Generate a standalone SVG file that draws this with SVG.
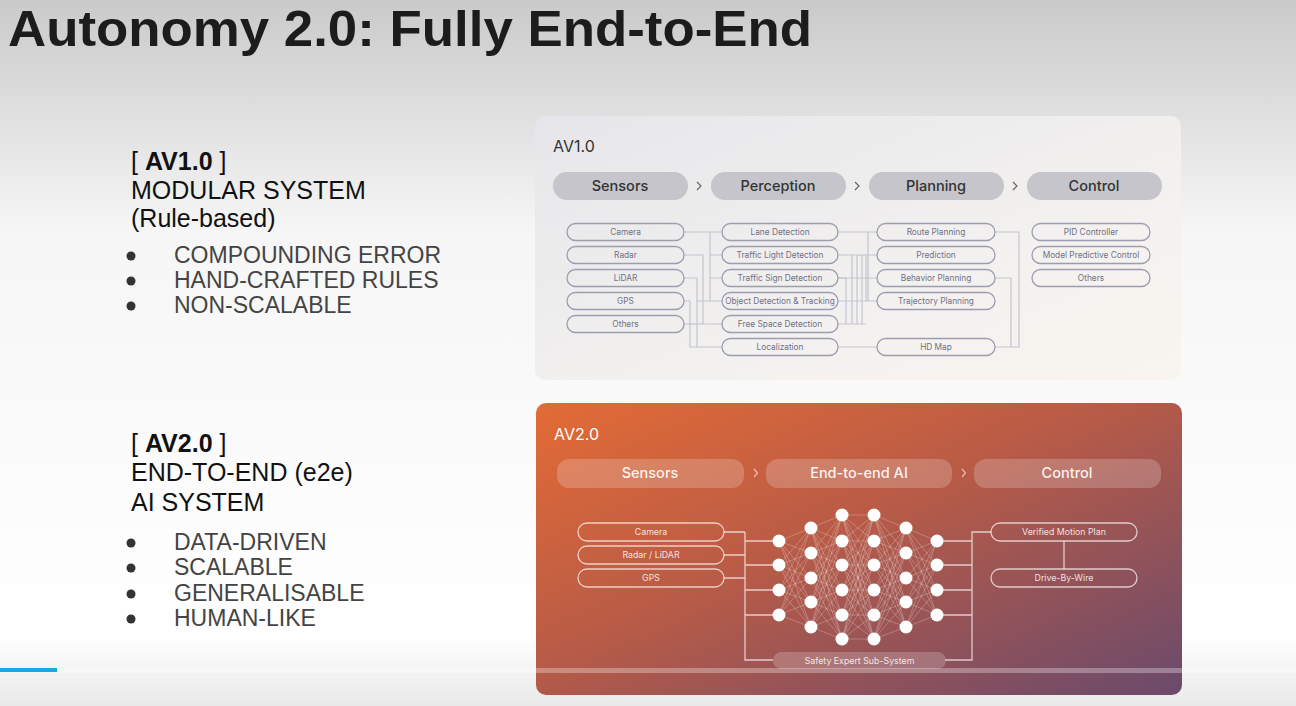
<svg xmlns="http://www.w3.org/2000/svg" width="1296" height="706" viewBox="0 0 1296 706">
<defs>
<linearGradient id="bg" x1="0" y1="0" x2="0" y2="1">
<stop offset="0" stop-color="#c9cac9"/>
<stop offset="0.33" stop-color="#f6f6f6"/>
<stop offset="0.9" stop-color="#ffffff"/>
<stop offset="1" stop-color="#e9e9e9"/>
</linearGradient>
<linearGradient id="p1" x1="0" y1="0" x2="1" y2="1">
<stop offset="0" stop-color="#e6e6ea"/>
<stop offset="0.6" stop-color="#f3f1ef"/>
<stop offset="1" stop-color="#f8f4ef"/>
</linearGradient>
<linearGradient id="p2" x1="0" y1="0" x2="1" y2="1">
<stop offset="0" stop-color="#e36b35"/>
<stop offset="0.45" stop-color="#b85b47"/>
<stop offset="1" stop-color="#6a4a6c"/>
</linearGradient>
<style>
.ttl{font-family:"Liberation Sans",Arial,sans-serif;font-weight:bold;font-size:50px;fill:#1c1c1c}
.lh{font-family:"Liberation Sans",Arial,sans-serif;font-size:25px;fill:#111}
.lb{font-family:"Liberation Sans",Arial,sans-serif;font-size:23px;fill:#444}
.dot{fill:#333}
.ph{font-family:Inter,"Noto Sans",sans-serif;font-size:16px;fill:#333}
.tp{fill:#c5c5cb}
.tpt{font-family:Inter,"Noto Sans",sans-serif;font-size:14.5px;font-weight:500;fill:#333;text-anchor:middle}
.chev{fill:none;stroke:#666;stroke-width:1.2}
.sp{fill:none;stroke:#9d9db2;stroke-width:1.3}
.spt{font-family:Inter,"Noto Sans",sans-serif;font-size:8.3px;fill:#707088;text-anchor:middle}
.c1{fill:none;stroke:#c4c4d0;stroke-width:1.2}
.ph2{font-family:Inter,"Noto Sans",sans-serif;font-size:16px;fill:#fff}
.tp2{fill:#ffffff;fill-opacity:0.2}
.tpt2{font-family:Inter,"Noto Sans",sans-serif;font-size:14.5px;font-weight:500;fill:#fff;fill-opacity:0.92;text-anchor:middle}
.chev2{fill:none;stroke:#fff;stroke-opacity:0.6;stroke-width:1.2}
.sp2{fill:none;stroke:#fff;stroke-opacity:0.7;stroke-width:1.3}
.spt2{font-family:Inter,"Noto Sans",sans-serif;font-size:8.8px;fill:#fff;fill-opacity:0.85;text-anchor:middle}
.c2{fill:none;stroke:#fff;stroke-opacity:0.7;stroke-width:1.3}
.nn{fill:none;stroke:#fff;stroke-opacity:0.3;stroke-width:0.8}
.nd{fill:#fff}
</style>
</defs>
<rect x="0" y="0" width="1296" height="706" fill="url(#bg)"/>
<text class="ttl" x="8" y="46" textLength="804" lengthAdjust="spacingAndGlyphs">Autonomy 2.0: Fully End-to-End</text>

<g id="left-av1">
<text class="lh" x="131" y="170">[ <tspan font-weight="bold">AV1.0</tspan> ]</text>
<text class="lh" x="131" y="199">MODULAR SYSTEM</text>
<text class="lh" x="131" y="227">(Rule-based)</text>
<circle class="dot" cx="131" cy="256" r="4.5"/><text class="lb" x="174" y="263">COMPOUNDING ERROR</text>
<circle class="dot" cx="131" cy="281" r="4.5"/><text class="lb" x="174" y="288">HAND-CRAFTED RULES</text>
<circle class="dot" cx="131" cy="306" r="4.5"/><text class="lb" x="174" y="313">NON-SCALABLE</text>
</g>
<g id="left-av2">
<text class="lh" x="131" y="452">[ <tspan font-weight="bold">AV2.0</tspan> ]</text>
<text class="lh" x="131" y="481">END-TO-END (e2e)</text>
<text class="lh" x="131" y="511">AI SYSTEM</text>
<circle class="dot" cx="131" cy="543" r="4.5"/><text class="lb" x="174" y="550">DATA-DRIVEN</text>
<circle class="dot" cx="131" cy="568" r="4.5"/><text class="lb" x="174" y="575">SCALABLE</text>
<circle class="dot" cx="131" cy="594" r="4.5"/><text class="lb" x="174" y="601">GENERALISABLE</text>
<circle class="dot" cx="131" cy="619" r="4.5"/><text class="lb" x="174" y="626">HUMAN-LIKE</text>
</g>

<!-- AV1.0 panel -->
<g id="panel-av1">
<rect x="535" y="116" width="646" height="264" rx="10" fill="url(#p1)"/>
<text class="ph" x="553" y="152">AV1.0</text>
</g>
<g id="av1-header">
<rect class="tp" x="553" y="172" width="135" height="28" rx="14"/><text class="tpt" x="620" y="191">Sensors</text>
<rect class="tp" x="711" y="172" width="135" height="28" rx="14"/><text class="tpt" x="778" y="191">Perception</text>
<rect class="tp" x="869" y="172" width="135" height="28" rx="14"/><text class="tpt" x="936" y="191">Planning</text>
<rect class="tp" x="1027" y="172" width="135" height="28" rx="14"/><text class="tpt" x="1094" y="191">Control</text>
<path class="chev" d="M697 182L701 186L697 190M855 182L859 186L855 190M1013 182L1017 186L1013 190"/>
</g>
<g id="av1-connectors">
<path class="c1" d="M684 232H710V301M710 232H722M710 255H722M710 278H722M710 301H722"/>
<path class="c1" d="M684 255H703V324M703 301H710M703 324H722"/>
<path class="c1" d="M684 278H697V347H722M697 301H703"/>
<path class="c1" d="M684 301H690V347H697"/>
<path class="c1" d="M684 324H703"/>
<path class="c1" d="M838 232H877M868 232V301"/>
<path class="c1" d="M838 255H877M838 278H877M838 301H877M852 255V324M857 255V324M862 255V324M866 255V301"/>
<path class="c1" d="M838 278H846V324M838 324H866"/>
<path class="c1" d="M838 347H877"/>
<path class="c1" d="M995 232H1019V347H995M995 278H1011V347"/>
</g>
<g id="av1-sensors">
<rect class="sp" x="567" y="223.5" width="117" height="17" rx="8.5"/><text class="spt" x="625.5" y="235">Camera</text>
<rect class="sp" x="567" y="246.5" width="117" height="17" rx="8.5"/><text class="spt" x="625.5" y="258">Radar</text>
<rect class="sp" x="567" y="269.5" width="117" height="17" rx="8.5"/><text class="spt" x="625.5" y="281">LiDAR</text>
<rect class="sp" x="567" y="292.5" width="117" height="17" rx="8.5"/><text class="spt" x="625.5" y="304">GPS</text>
<rect class="sp" x="567" y="315.5" width="117" height="17" rx="8.5"/><text class="spt" x="625.5" y="327">Others</text>
</g>
<g id="av1-perception">
<rect class="sp" x="722" y="223.5" width="116" height="17" rx="8.5"/><text class="spt" x="780" y="235">Lane Detection</text>
<rect class="sp" x="722" y="246.5" width="116" height="17" rx="8.5"/><text class="spt" x="780" y="258">Traffic Light Detection</text>
<rect class="sp" x="722" y="269.5" width="116" height="17" rx="8.5"/><text class="spt" x="780" y="281">Traffic Sign Detection</text>
<rect class="sp" x="722" y="292.5" width="116" height="17" rx="8.5"/><text class="spt" x="780" y="304">Object Detection &amp; Tracking</text>
<rect class="sp" x="722" y="315.5" width="116" height="17" rx="8.5"/><text class="spt" x="780" y="327">Free Space Detection</text>
<rect class="sp" x="722" y="338.5" width="116" height="17" rx="8.5"/><text class="spt" x="780" y="350">Localization</text>
</g>
<g id="av1-planning">
<rect class="sp" x="877" y="223.5" width="118" height="17" rx="8.5"/><text class="spt" x="936" y="235">Route Planning</text>
<rect class="sp" x="877" y="246.5" width="118" height="17" rx="8.5"/><text class="spt" x="936" y="258">Prediction</text>
<rect class="sp" x="877" y="269.5" width="118" height="17" rx="8.5"/><text class="spt" x="936" y="281">Behavior Planning</text>
<rect class="sp" x="877" y="292.5" width="118" height="17" rx="8.5"/><text class="spt" x="936" y="304">Trajectory Planning</text>
<rect class="sp" x="877" y="338.5" width="118" height="17" rx="8.5"/><text class="spt" x="936" y="350">HD Map</text>
</g>
<g id="av1-control">
<rect class="sp" x="1032" y="223.5" width="118" height="17" rx="8.5"/><text class="spt" x="1091" y="235">PID Controller</text>
<rect class="sp" x="1032" y="246.5" width="118" height="17" rx="8.5"/><text class="spt" x="1091" y="258">Model Predictive Control</text>
<rect class="sp" x="1032" y="269.5" width="118" height="17" rx="8.5"/><text class="spt" x="1091" y="281">Others</text>
</g>

<!-- AV2.0 panel -->
<g id="panel-av2">
<rect x="536" y="403" width="646" height="292" rx="10" fill="url(#p2)"/>
<text class="ph2" x="554" y="440">AV2.0</text>
</g>
<g id="av2-header">
<rect class="tp2" x="557" y="459" width="187" height="29" rx="12"/><text class="tpt2" x="650" y="478">Sensors</text>
<rect class="tp2" x="766" y="459" width="186" height="29" rx="12"/><text class="tpt2" x="859" y="478">End-to-end AI</text>
<rect class="tp2" x="974" y="459" width="187" height="29" rx="12"/><text class="tpt2" x="1067" y="478">Control</text>
<path class="chev2" d="M754 469L757.5 473L754 477M962 469L965.5 473L962 477"/>
</g>
<g id="av2-connectors">
<path class="c2" d="M724 532H745M724 555H745M724 578H745M745 532V660H773M745 541H779M745 565H779M745 590H779M745 615H779"/>
<path class="c2" d="M937 541H972M937 565H972M937 590H972M937 615H972M991 532H972V660H945"/>
<path class="c2" d="M1064 541V569"/>
</g>
<g id="nn-edges">
<path class="nn" d="M779 541L811 528M779 541L811 553M779 541L811 578M779 541L811 602M779 541L811 627M779 565L811 528M779 565L811 553M779 565L811 578M779 565L811 602M779 565L811 627M779 590L811 528M779 590L811 553M779 590L811 578M779 590L811 602M779 590L811 627M779 615L811 528M779 615L811 553M779 615L811 578M779 615L811 602M779 615L811 627"/>
<path class="nn" d="M811 528L842 515M811 528L842 541M811 528L842 565M811 528L842 590M811 528L842 615M811 528L842 639M811 553L842 515M811 553L842 541M811 553L842 565M811 553L842 590M811 553L842 615M811 553L842 639M811 578L842 515M811 578L842 541M811 578L842 565M811 578L842 590M811 578L842 615M811 578L842 639M811 602L842 515M811 602L842 541M811 602L842 565M811 602L842 590M811 602L842 615M811 602L842 639M811 627L842 515M811 627L842 541M811 627L842 565M811 627L842 590M811 627L842 615M811 627L842 639"/>
<path class="nn" d="M842 515L874 515M842 515L874 541M842 515L874 565M842 515L874 590M842 515L874 615M842 515L874 639M842 541L874 515M842 541L874 541M842 541L874 565M842 541L874 590M842 541L874 615M842 541L874 639M842 565L874 515M842 565L874 541M842 565L874 565M842 565L874 590M842 565L874 615M842 565L874 639M842 590L874 515M842 590L874 541M842 590L874 565M842 590L874 590M842 590L874 615M842 590L874 639M842 615L874 515M842 615L874 541M842 615L874 565M842 615L874 590M842 615L874 615M842 615L874 639M842 639L874 515M842 639L874 541M842 639L874 565M842 639L874 590M842 639L874 615M842 639L874 639"/>
<path class="nn" d="M874 515L906 528M874 515L906 553M874 515L906 578M874 515L906 602M874 515L906 627M874 541L906 528M874 541L906 553M874 541L906 578M874 541L906 602M874 541L906 627M874 565L906 528M874 565L906 553M874 565L906 578M874 565L906 602M874 565L906 627M874 590L906 528M874 590L906 553M874 590L906 578M874 590L906 602M874 590L906 627M874 615L906 528M874 615L906 553M874 615L906 578M874 615L906 602M874 615L906 627M874 639L906 528M874 639L906 553M874 639L906 578M874 639L906 602M874 639L906 627"/>
<path class="nn" d="M906 528L937 541M906 528L937 565M906 528L937 590M906 528L937 615M906 553L937 541M906 553L937 565M906 553L937 590M906 553L937 615M906 578L937 541M906 578L937 565M906 578L937 590M906 578L937 615M906 602L937 541M906 602L937 565M906 602L937 590M906 602L937 615M906 627L937 541M906 627L937 565M906 627L937 590M906 627L937 615"/>
</g>
<g id="nn-nodes">
<circle class="nd" cx="779" cy="541" r="6.5"/><circle class="nd" cx="779" cy="565" r="6.5"/><circle class="nd" cx="779" cy="590" r="6.5"/><circle class="nd" cx="779" cy="615" r="6.5"/>
<circle class="nd" cx="811" cy="528" r="6.5"/><circle class="nd" cx="811" cy="553" r="6.5"/><circle class="nd" cx="811" cy="578" r="6.5"/><circle class="nd" cx="811" cy="602" r="6.5"/><circle class="nd" cx="811" cy="627" r="6.5"/>
<circle class="nd" cx="842" cy="515" r="6.5"/><circle class="nd" cx="842" cy="541" r="6.5"/><circle class="nd" cx="842" cy="565" r="6.5"/><circle class="nd" cx="842" cy="590" r="6.5"/><circle class="nd" cx="842" cy="615" r="6.5"/><circle class="nd" cx="842" cy="639" r="6.5"/>
<circle class="nd" cx="874" cy="515" r="6.5"/><circle class="nd" cx="874" cy="541" r="6.5"/><circle class="nd" cx="874" cy="565" r="6.5"/><circle class="nd" cx="874" cy="590" r="6.5"/><circle class="nd" cx="874" cy="615" r="6.5"/><circle class="nd" cx="874" cy="639" r="6.5"/>
<circle class="nd" cx="906" cy="528" r="6.5"/><circle class="nd" cx="906" cy="553" r="6.5"/><circle class="nd" cx="906" cy="578" r="6.5"/><circle class="nd" cx="906" cy="602" r="6.5"/><circle class="nd" cx="906" cy="627" r="6.5"/>
<circle class="nd" cx="937" cy="541" r="6.5"/><circle class="nd" cx="937" cy="565" r="6.5"/><circle class="nd" cx="937" cy="590" r="6.5"/><circle class="nd" cx="937" cy="615" r="6.5"/>
</g>
<g id="av2-sensors">
<rect class="sp2" x="578" y="523" width="146" height="18" rx="9"/><text class="spt2" x="651" y="535">Camera</text>
<rect class="sp2" x="578" y="546" width="146" height="18" rx="9"/><text class="spt2" x="651" y="558">Radar / LiDAR</text>
<rect class="sp2" x="578" y="569" width="146" height="18" rx="9"/><text class="spt2" x="651" y="581">GPS</text>
</g>
<g id="av2-control">
<rect class="sp2" x="991" y="523" width="146" height="18" rx="9"/><text class="spt2" x="1064" y="535">Verified Motion Plan</text>
<rect class="sp2" x="991" y="569" width="146" height="18" rx="9"/><text class="spt2" x="1064" y="581">Drive-By-Wire</text>
</g>
<g id="safety">
<rect class="tp2" x="773" y="652" width="173" height="17" rx="8.5"/><text class="spt2" x="859.5" y="664">Safety Expert Sub-System</text>
</g>
<rect x="0" y="668" width="1296" height="5" fill="#ffffff" fill-opacity="0.3"/>
<rect x="0" y="668" width="57" height="4" fill="#1ba6e4"/>
</svg>
